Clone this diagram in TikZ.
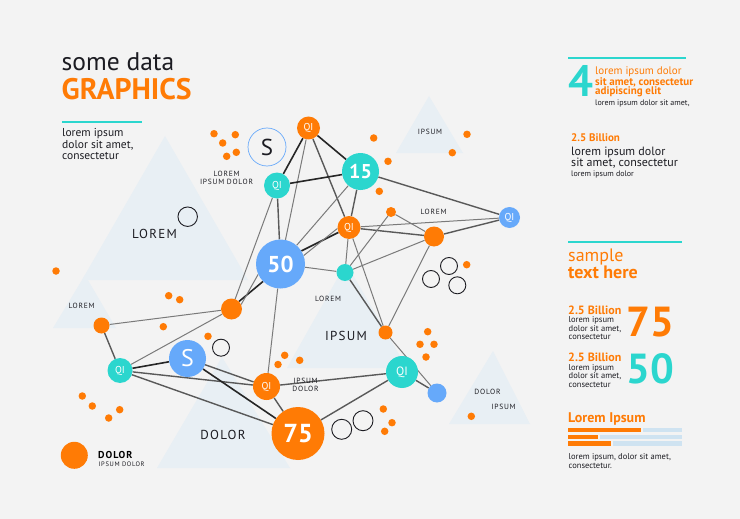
\documentclass[tikz,border=0pt]{standalone}
\usepackage{fontspec}
\setmainfont{PT Sans}
\newfontfamily\spaced[LetterSpace=10]{PT Sans}
\usetikzlibrary{backgrounds}
\definecolor{bg}{HTML}{F3F3F3}
\definecolor{org}{HTML}{FF7B05}
\definecolor{tl}{HTML}{2BD6CE}
\definecolor{blu}{HTML}{66A9FA}
\definecolor{tri}{HTML}{E8EFF4}
\definecolor{barb}{HTML}{CFE3F1}
\definecolor{txt}{HTML}{1C1C22}
\newcommand{\fs}[1]{\fontsize{#1}{#1}\selectfont}
\tikzset{
 x=1pt,y=-1pt,
 hub/.style={circle,draw=none,inner sep=0pt,text=white,align=center},
 og/.style={hub,fill=org},
 tg/.style={hub,fill=tl},
 bg2/.style={hub,fill=blu},
 dot/.style={circle,fill=org,inner sep=0pt,minimum size=10.5pt},
 ring/.style={circle,draw=txt,line width=0.9pt,inner sep=0pt,fill=none},
 lbl/.style={inner sep=0pt,anchor=base west,text=txt},
 capt/.style={inner sep=0pt,anchor=base,text=txt,align=center},
 tfill/.style={fill=tri,draw=none},
 thk/.style={draw=black!85,line width=1.6pt},
 med/.style={draw=black!65,line width=1.4pt},
 thn/.style={draw=black!52,line width=1pt},
 rule/.style={draw=tl,line width=1.5pt},
}
\begin{document}
\begin{tikzpicture}
\useasboundingbox (0,0) rectangle (740,519);
% hubs
\node[og,minimum size=23pt,font=\fs{10}] (qtop) at (308.5,128) {QI};
\node[tg,minimum size=26pt,font=\fs{10}] (qteal) at (277,185.5) {QI};
\node[tg,minimum size=37pt,font=\fs{20}\bfseries] (n15) at (360.5,171.5) {15};
\node[og,minimum size=23pt,font=\fs{10}] (qmid) at (349,227.5) {QI};
\node[bg2,minimum size=49pt,font=\fs{23}\bfseries] (n50) at (280.5,264) {50};
\node[tg,minimum size=17pt] (tsm) at (345,272.5) {};
\node[og,minimum size=20pt] (obig) at (434,236.5) {};
\node[bg2,minimum size=21pt,font=\fs{10}] (qblue) at (509.5,217.5) {QI};
\node[og,minimum size=10pt] (osm) at (391,212) {};
\node[og,minimum size=21pt] (ol) at (231.5,309) {};
\node[og,minimum size=16pt] (oll) at (101.5,325.5) {};
\node[tg,minimum size=25pt,font=\fs{10}] (qleft) at (120,370.5) {QI};
\node[bg2,minimum size=37pt,font=\fs{24}] (sblue) at (187.5,358.5) {S};
\node[og,minimum size=27pt,font=\fs{10}] (qlow) at (266.5,386.5) {QI};
\node[og,minimum size=53pt,font=\fs{26}\bfseries] (n75) at (298,433.5) {75};
\node[og,minimum size=14pt] (oips) at (385.5,332.5) {};
\node[tg,minimum size=32pt,font=\fs{12}] (qright) at (402,372) {QI};
\node[bg2,minimum size=19pt] (bsm) at (437,393) {};
\node[circle,draw=blu,line width=0.7pt,fill=none,inner sep=0pt,minimum size=38pt,font=\fs{23},text=txt] (souter) at (267,147) {S};
\begin{scope}[on background layer]
 \fill[bg] (0,0) rectangle (740,519);
 \fill[tfill] (165,136) -- (248,280) -- (82,280) -- cycle;
 \fill[tfill] (85,275) -- (116,328) -- (53,328) -- cycle;
 \fill[tfill] (429,96) -- (463,153) -- (396,153) -- cycle;
 \fill[tfill] (346,263) -- (407,368) -- (287,368) -- cycle;
 \fill[tfill] (222,357) -- (290,468) -- (157,468) -- cycle;
 \fill[tfill] (493,351) -- (530,424) -- (449,424) -- cycle;
 \draw[thk] (qtop) -- (qteal);
 \draw[thk] (qtop) -- (n15);
 \draw[thn] (qtop) -- (n50);
 \draw[med] (qtop) -- (qmid);
 \draw[thk] (qteal) -- (n15);
 \draw[med] (qteal) -- (n50);
 \draw[thn] (qteal) -- (ol);
 \draw[thn] (n15) -- (n50);
 \draw[med] (n15) -- (qmid);
 \draw[med] (n15) -- (qblue);
 \draw[thn] (qmid) -- (qblue);
 \draw[med] (qmid) -- (obig);
 \draw[thk] (qmid.205) -- (n50.32);
 \draw[thn] (qmid.185) -- (n50.20);
 \draw[thn] (qmid) -- (tsm);
 \draw[thn] (qmid) -- (oips);
 \draw[thn] (osm) -- (obig);
 \draw[thn] (osm) -- (tsm);
 \draw[thn] (tsm) -- (n50);
 \draw[thn] (tsm) -- (obig);
 \draw[med] (tsm) -- (oips);
 \draw[med] (obig) -- (qblue);
 \draw[thn] (obig) -- (oips);
 \draw[thk] (n50.225) -- (ol.45);
 \draw[thn] (n50.205) -- (ol.25);
 \draw[thn] (n50) -- (qlow);
 \draw[thn] (ol) -- (oll);
 \draw[thn] (ol) -- (qleft);
 \draw[med] (oll) -- (qleft);
 \draw[thk] (qleft) -- (sblue);
 \draw[med] (qleft) -- (qlow);
 \draw[med] (qleft) -- (n75);
 \draw[med] (sblue) -- (qlow);
 \draw[thk] (sblue) -- (n75);
 \draw[med] (qlow) -- (n75);
 \draw[med] (qlow) -- (qright);
 \draw[med] (n75) -- (qright);
 \draw[thn] (oips) -- (bsm);
 \draw[med] (qright) -- (bsm);
\end{scope}
% dots
\foreach \n/\p in {a/{214,133.7},b/{235.3,134.7},c/{222.7,143},d/{236.3,152.3},e/{226.7,156.3},
 f/{373.7,138},g/{388,161.3},h/{379.3,191.3},i/{467,134.3},j/{452.3,152.7},k/{466.7,264.7},
 l/{56,271},m/{168.7,295.7},o/{179.7,299.7},p/{163.3,326.7},q/{208,336.3},r/{284.7,355.3},
 s/{278,364.5},t/{82.3,396},u/{92.3,406},v/{119.7,409.7},w/{108.7,418},y/{299.7,360.3},
 z/{427.7,331.7},aa/{420,344.3},ab/{434,344.3},ac/{426,357},ad/{383.3,409},ae/{392,422.7},
 af/{384.7,431.3},ag/{471.3,416.3}}
 {\node[dot,minimum size=7.5pt] (dot\n) at (\p) {};}
% rings
\node[ring,minimum size=19.5pt] (r1) at (187.7,216.7) {};
\node[ring,minimum size=17pt] (r2) at (449,266) {};
\node[ring,minimum size=17pt] (r3) at (431,279) {};
\node[ring,minimum size=17pt] (r4) at (457.3,285.3) {};
\node[ring,minimum size=17pt] (r5) at (221,347.7) {};
\node[ring,minimum size=20pt] (r6) at (341.7,429.3) {};
\node[ring,minimum size=20pt] (r7) at (363,420.7) {};
\node[og,minimum size=27pt] (legend) at (74.3,455.3) {};
% header
\node[lbl,font=\fs{25.5}] (t1) at (61.5,71) {some data};
\node[lbl,font=\fs{29.7}\bfseries,text=org] (t2) at (61.5,99.5) {GRAPHICS};
\coordinate (la) at (62,122); \coordinate (lb) at (142,122);
\draw[rule] (la) -- (lb);
\node[lbl,font=\fs{11.5}] (t3) at (62,137) {lorem ipsum};
\node[lbl,font=\fs{11.5}] (t4) at (62,148.5) {dolor sit amet,};
\node[lbl,font=\fs{11.5}] (t5) at (62,160) {consectetur};
% diagram captions
\node[capt,font=\fs{13}\spaced] (c1) at (154.5,238) {LOREM};
\node[capt,font=\fs{7.5}\spaced] (c2) at (226.5,176) {LOREM};
\node[capt,font=\fs{7.5}\spaced] (c3) at (226.5,184) {IPSUM DOLOR};
\node[capt,font=\fs{7.5}\spaced] (c4) at (430,135) {IPSUM};
\node[capt,font=\fs{7.5}\spaced] (c5) at (433.5,214) {LOREM};
\node[capt,font=\fs{7.5}\spaced] (c6) at (328,301.5) {LOREM};
\node[capt,font=\fs{7.5}\spaced] (c7) at (81.5,308) {LOREM};
\node[capt,font=\fs{13}\spaced] (c8) at (346,340) {IPSUM};
\node[capt,font=\fs{13}\spaced] (c9) at (223,439) {DOLOR};
\node[capt,font=\fs{7.5}\spaced] (c10) at (305.5,383.5) {IPSUM};
\node[capt,font=\fs{7.5}\spaced] (c11) at (305.5,391.5) {DOLOR};
\node[capt,font=\fs{7.5}\spaced] (c12) at (487.5,394) {DOLOR};
\node[capt,font=\fs{7.5}\spaced] (c13) at (503.5,409) {IPSUM};
\node[lbl,font=\fs{10}\bfseries\spaced,text=black] (c14) at (98,458) {DOLOR};
\node[lbl,font=\fs{6.5}\spaced] (c15) at (98.5,466) {IPSUM DOLOR};
% right column
\coordinate (ra) at (568,58); \coordinate (rb) at (686,58);
\draw[rule] (ra) -- (rb);
\node[lbl,font=\fs{44}\bfseries,text=tl] (r0) at (568.5,97) {4};
\node[lbl,font=\fs{11},text=org] (r01) at (595,75) {lorem ipsum dolor};
\node[lbl,font=\fs{11}\bfseries,text=org] (r02) at (595,85) {sit amet, consectetur};
\node[lbl,font=\fs{11}\bfseries,text=org] (r03) at (595,95) {adipiscing elit};
\node[lbl,font=\fs{8}] (r04) at (595,106) {lorem ipsum dolor sit amet,};
\node[lbl,font=\fs{11}\bfseries,text=org] (r05) at (571,142) {2.5 Billion};
\node[lbl,font=\fs{12}] (r06) at (571,155) {lorem ipsum dolor};
\node[lbl,font=\fs{12}] (r07) at (571,167) {sit amet, consectetur};
\node[lbl,font=\fs{8}] (r08) at (571,176) {lorem ipsum dolor};
\coordinate (sa) at (568,242); \coordinate (sb) at (682,242);
\draw[rule] (sa) -- (sb);
\node[lbl,font=\fs{18},text=org] (s1) at (568,261) {sample};
\node[lbl,font=\fs{18}\bfseries,text=org] (s2) at (568,278) {text here};
\node[lbl,font=\fs{12}\bfseries,text=org] (s3) at (568,314) {2.5 Billion};
\node[lbl,font=\fs{8.5}] (s4) at (568.5,322.5) {lorem ipsum};
\node[lbl,font=\fs{8.5}] (s5) at (568.5,331) {dolor sit amet,};
\node[lbl,font=\fs{8.5}] (s6) at (568.5,339.5) {consectetur};
\node[lbl,font=\fs{42}\bfseries,text=org] (s7) at (626,336) {75};
\node[lbl,font=\fs{12}\bfseries,text=org] (s8) at (568,361) {2.5 Billion};
\node[lbl,font=\fs{8.5}] (s9) at (568.5,370) {lorem ipsum};
\node[lbl,font=\fs{8.5}] (s10) at (568.5,378.5) {dolor sit amet,};
\node[lbl,font=\fs{8.5}] (s11) at (568.5,387) {consectetur};
\node[lbl,font=\fs{42}\bfseries,text=tl] (s12) at (626,383) {50};
\node[lbl,font=\fs{14}\bfseries,text=org] (b0) at (568,422) {Lorem Ipsum};
\fill[barb] (643,427.7) rectangle (682,432);
\fill[barb] (600,434.7) rectangle (682,439);
\fill[barb] (613,441.3) rectangle (682,445.7);
\fill[org] (568.3,427.7) rectangle (641,432);
\fill[org] (568.3,434.7) rectangle (598,439);
\fill[org] (568.3,441.3) rectangle (610.7,445.7);
\node[lbl,font=\fs{8.5}] (b1) at (568.5,459.5) {lorem ipsum, dolor sit amet,};
\node[lbl,font=\fs{8.5}] (b2) at (568.5,468) {consectetur.};
\end{tikzpicture}
\end{document}
